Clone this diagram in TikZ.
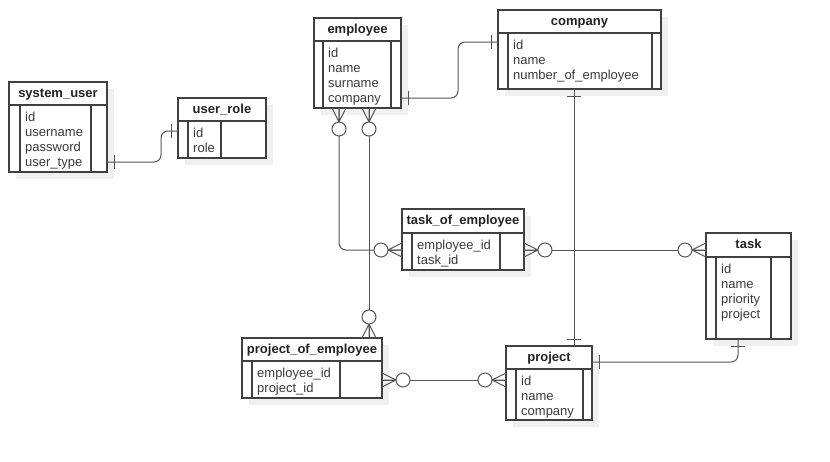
\documentclass[tikz,border=0pt]{standalone}
\usepackage{fontspec}
\setmainfont{Liberation Sans}
\usetikzlibrary{calc}
\definecolor{lnc}{HTML}{555555}
\definecolor{shd}{HTML}{F0F0F0}
\definecolor{txc}{HTML}{3A3A3A}
\definecolor{bdc}{HTML}{404040}
\definecolor{ttc}{HTML}{222222}
\tikzset{
 ebox/.style={draw=bdc, line width=1.1pt, fill=white, inner sep=0pt, outer sep=0pt, anchor=north west},
 einner/.style={draw=bdc, line width=1.1pt},
 etitle/.style={font=\bfseries\fontsize{13}{15}\selectfont, anchor=base, inner sep=0pt, text=ttc},
 efield/.style={font=\fontsize{13}{15}\selectfont, anchor=base west, inner sep=0pt, text=txc},
 rel/.style={draw=lnc, line width=1pt, rounded corners=7pt},
 crowfoot/.pic={\draw[lnc, line width=1pt] (0,7) -- (14,0) -- (0,-7) (0,0) -- (14,0);
                \draw[lnc, line width=1pt, fill=white] (21,0) circle (7pt);},
 onebar/.pic={\draw[lnc, line width=1pt] (7,-7) -- (7,7);},
}
\newcommand\erentity[9]{%
 \fill[shd] (#2+7,#3+7) rectangle (#4+7,#6+7);
 \node[ebox, minimum width={(#4-#2)*1pt}, minimum height={(#6-#3)*1pt}] (#1) at (#2,#3) {};
 \draw[einner] (#2,#5) -- (#4,#5) (#7,#5) -- (#7,#6) (#8,#5) -- (#8,#6);
 \node[etitle] (#1-t) at ({(#2+#4)/2},#3+15.3) {#9};
}
\newcommand\erfields[4]{%
 \foreach \f [count=\i from 0] in {#4} \node[efield] (#1-f\i) at (#2+5,#3+16.7+15*\i) {\f};
}
\begin{document}
\begin{tikzpicture}[x=1pt,y=-1pt]
\useasboundingbox[fill=white] (0,0) rectangle (830,461);
% entities
\erentity{su}{9}{82}{107}{105}{172}{20}{91}{system\_user}
\erfields{su}{20}{105}{id,username,password,user\_type}
\erentity{ur}{178}{98}{266}{121}{158}{188}{221}{user\_role}
\erfields{ur}{188}{121}{id,role}
\erentity{emp}{314}{18}{401}{41}{108}{323}{391}{employee}
\erfields{emp}{323}{41}{id,name,surname,company}
\erentity{comp}{498}{10}{661}{33}{89}{508}{652}{company}
\erfields{comp}{508}{33}{id,name,number\_of\_employee}
\erentity{toe}{402}{209}{524}{233}{270}{412}{500}{task\_of\_employee}
\erfields{toe}{412}{233}{employee\_id,task\_id}
\erentity{task}{706}{233}{791}{257}{339}{716}{771}{task}
\erfields{task}{716}{257}{id,name,priority,project}
\erentity{poe}{242}{338}{382}{361}{398}{252}{340}{project\_of\_employee}
\erfields{poe}{252}{361}{employee\_id,project\_id}
\erentity{proj}{506}{346}{592}{369}{420}{516}{583}{project}
\erfields{proj}{516}{369}{id,name,company}
% connectors
\draw[rel] ($(su.south east)+(0,-10)$) -- (161,162) -- (161,131) -- ($(ur.north west)+(0,33)$);
\path ($(su.south east)+(0,-10)$) pic {onebar};
\path ($(ur.north west)+(0,33)$) pic[rotate=180] {onebar};

\draw[rel] ($(emp.south east)+(0,-10)$) -- (458,98) -- (458,42) -- ($(comp.north west)+(0,32)$);
\path ($(emp.south east)+(0,-10)$) pic {onebar};
\path ($(comp.north west)+(0,32)$) pic[rotate=180] {onebar};

\draw[rel] ($(comp.south west)+(76,0)$) -- ($(proj.north west)+(68,0)$);
\path ($(comp.south west)+(76,0)$) pic[rotate=-90] {onebar};
\path ($(proj.north west)+(68,0)$) pic[rotate=90] {onebar};

\draw[rel] ($(emp.south west)+(25,0)$) -- (339,250) -- ($(toe.north west)+(0,41)$);
\path ($(emp.south west)+(25,0)$) pic[rotate=-90] {crowfoot};
\path ($(toe.north west)+(0,41)$) pic[rotate=180] {crowfoot};

\draw[rel] ($(emp.south west)+(55,0)$) -- ($(poe.north west)+(127,0)$);
\path ($(emp.south west)+(55,0)$) pic[rotate=-90] {crowfoot};
\path ($(poe.north west)+(127,0)$) pic[rotate=90] {crowfoot};

\draw[rel] ($(toe.north east)+(0,41)$) -- ($(task.north west)+(0,17)$);
\path ($(toe.north east)+(0,41)$) pic {crowfoot};
\path ($(task.north west)+(0,17)$) pic[rotate=180] {crowfoot};

\draw[rel] ($(poe.north east)+(0,42)$) -- ($(proj.north west)+(0,34)$);
\path ($(poe.north east)+(0,42)$) pic {crowfoot};
\path ($(proj.north west)+(0,34)$) pic[rotate=180] {crowfoot};

\draw[rel] ($(task.south west)+(32,0)$) -- (738,362) -- ($(proj.north east)+(0,16)$);
\path ($(task.south west)+(32,0)$) pic[rotate=-90] {onebar};
\path ($(proj.north east)+(0,16)$) pic {onebar};
\end{tikzpicture}
\end{document}
